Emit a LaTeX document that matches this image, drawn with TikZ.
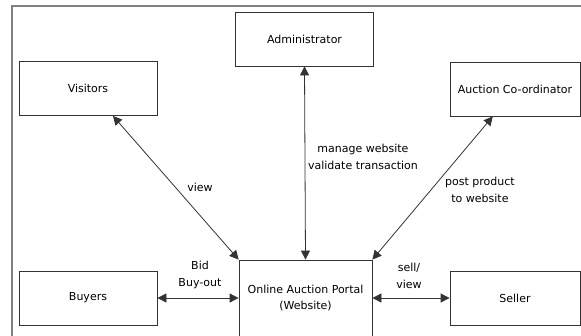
\documentclass[tikz,border=0pt]{standalone}
\usepackage{fontspec}
\setmainfont{DejaVu Sans}
\usetikzlibrary{arrows.meta,calc}
\tikzset{
  actor/.style={draw=black!80, line width=0.8pt, minimum width=138pt, minimum height=54pt,
    inner sep=0pt, font=\fontsize{11}{16}\selectfont},
  flow/.style={draw=black!80, line width=0.8pt,
    {Triangle[length=9pt,width=9pt]}-{Triangle[length=9pt,width=9pt]}},
  lbl/.style={font=\fontsize{11}{16.5}\selectfont, align=center, inner sep=0pt},
  frame/.style={draw=black!50, line width=1.2pt}
}
\begin{document}
\begin{tikzpicture}[x=1pt,y=-1pt]
\useasboundingbox (0,0) rectangle (581,335);
\clip (0,0) rectangle (581,335);
% outer frame (top and left sides)
\draw[frame] (12,340) -- (12,6) -- (590,6);
% participants
\node[actor] (vis) at (88,88.5) {Visitors};
\node[actor] (adm) at (304.5,39) {Administrator};
\node[actor, minimum width=130pt] (coo) at (515,89) {Auction Co-ordinator};
\node[actor] (buy) at (88,298) {Buyers};
\node[actor, minimum width=130pt] (sel) at (515,298) {Seller};
\node[actor, minimum width=133pt, minimum height=76pt, align=center] (por) at (305.5,298)
  {Online Auction Portal\\(Website)};
% connectors
\draw[flow] (por.north west) -- ($(vis.south west)!0.68!(vis.south east)$);
\draw[flow] (por.north) -- (adm.south);
\draw[flow] (por.north east) -- ($(coo.south west)!0.33!(coo.south east)$);
\draw[flow] (buy.east) -- (por.west);
\draw[flow] (por.east) -- (sel.west);
% labels
\node[lbl] (lview) at (200,187) {view};
\node[lbl] (ladm) at (363,157) {manage website\\validate transaction};
\node[lbl] (lcoo) at (480,190) {post product\\to website};
\node[lbl] (lbuy) at (200,275) {Bid\\Buy-out};
\node[lbl] (lsel) at (409,276) {sell/\\view};
\end{tikzpicture}
\end{document}
